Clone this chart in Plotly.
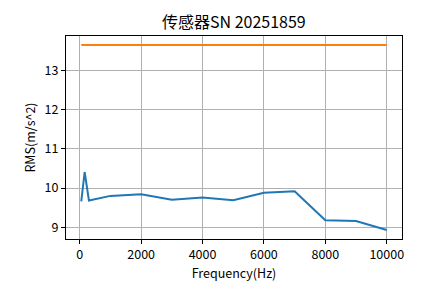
import plotly.graph_objects as go

freq = [50, 160, 300, 1000, 2000, 3000, 4000, 5000, 6000, 7000, 8000, 9000, 10000]
rms = [9.66, 10.41, 9.68, 9.80, 9.84, 9.70, 9.76, 9.69, 9.88, 9.92, 9.18, 9.16, 8.93]
limit_freq = [50, 10000]
limit_val = [13.65, 13.65]

x_ticks = [0, 2000, 4000, 6000, 8000, 10000]
x_ticklabels = ["0", "2000", "4000", "6000", "8000", "10000"]
y_ticks = [9, 10, 11, 12, 13]
y_ticklabels = ["9", "10", "11", "12", "13"]

title = "传感器SN 20251859"
xlabel = "Frequency(Hz)"
ylabel = "RMS(m/s^2)"

font = "Noto Sans CJK SC, SimHei, sans-serif"

fig = go.Figure()
fig.add_trace(go.Scatter(x=freq, y=rms, mode="lines",
                         line=dict(color="#1f77b4", width=2), showlegend=False))
fig.add_trace(go.Scatter(x=limit_freq, y=limit_val, mode="lines",
                         line=dict(color="#ff7f0e", width=2), showlegend=False))

axis_common = dict(
    showline=True, linecolor="black", linewidth=1, mirror=True,
    showgrid=True, gridcolor="#b0b0b0", gridwidth=1,
    ticks="outside", ticklen=4, tickcolor="black", tickwidth=1,
    zeroline=False, tickfont=dict(family=font, size=12.5, color="black"),
)

fig.update_layout(
    width=445, height=299,
    margin=dict(l=66, r=43, t=36, b=60),
    paper_bgcolor="white", plot_bgcolor="white",
    title=dict(text=title, x=0.5255, xanchor="center", y=0.925, yanchor="middle",
               font=dict(family=font, size=16, color="black")),
    xaxis=dict(range=[-447.5, 10497.5], tickmode="array", tickvals=x_ticks, ticktext=x_ticklabels,
               title=dict(text=xlabel, standoff=6, font=dict(family=font, size=12.5, color="black")),
               **axis_common),
    yaxis=dict(range=[8.70, 13.88], tickmode="array", tickvals=y_ticks, ticktext=y_ticklabels,
               title=dict(text=ylabel, standoff=6, font=dict(family=font, size=12.5, color="black")),
               **axis_common),
)

fig.write_html("out.html")
